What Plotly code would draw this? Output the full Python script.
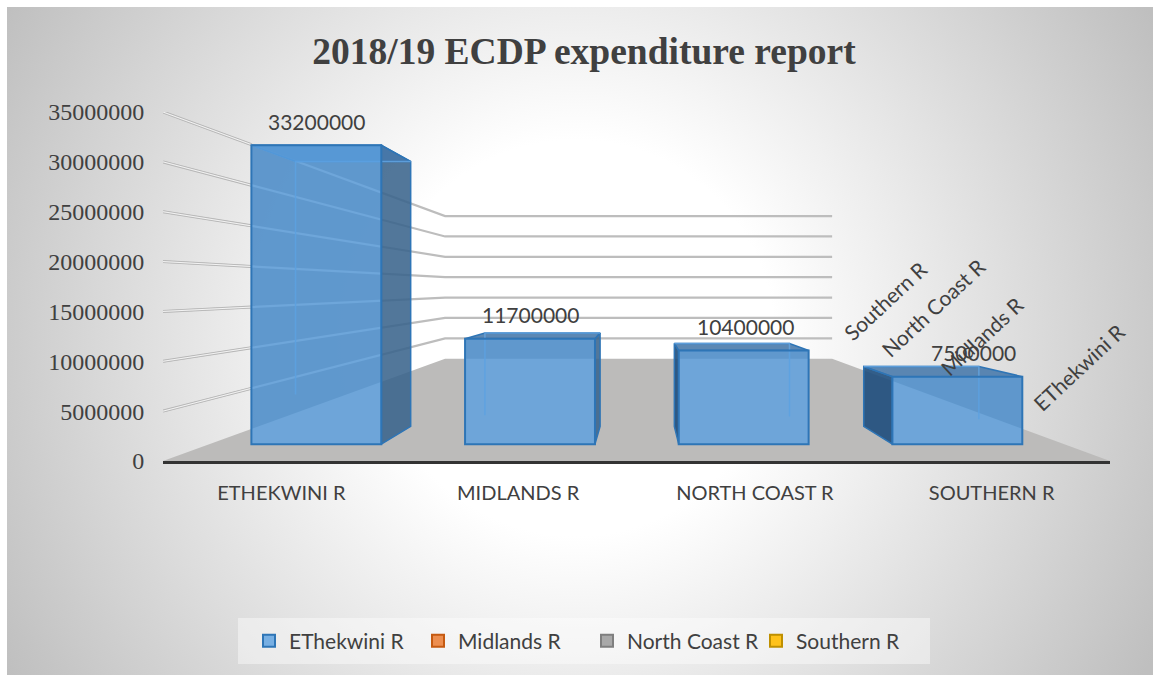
import base64
import plotly.graph_objects as go

# Chart content
title_text = "2018/19 ECDP expenditure report"
categories = ["EThekwini R", "Midlands R", "North Coast R", "Southern R"]
axis_labels = ["ETHEKWINI R", "MIDLANDS R", "NORTH COAST R", "SOUTHERN R"]
spending = [33200000, 11700000, 10400000, 7500000]
value_ticks = [0, 5000000, 10000000, 15000000, 20000000, 25000000, 30000000, 35000000]

# Perspective model: depth factors shrink everything towards a vanishing point
VP_CAT, VP_VAL = 1.515, 17350000
DEPTH_BAR_FRONT, DEPTH_BAR_BACK, DEPTH_WALL = 0.9025, 0.80, 0.4087
BAR_WIDTH = 0.608
CAT_MIN, CAT_MAX, VAL_MAX = -0.5, 3.5, 35000000

W, H = 1153, 675
SERIF = "Liberation Serif"
SANS = "Lato"
INK = "#404040"


def project(cat, val, depth):
    return VP_CAT + (cat - VP_CAT) * depth, VP_VAL + (val - VP_VAL) * depth


def path(points):
    xs, ys = zip(*[project(*p) for p in points])
    return list(xs), list(ys)


def add_poly(fig, points, fill, line="rgba(0,0,0,0)", width=1, closed=True):
    xs, ys = path(points)
    if closed:
        xs, ys = xs + xs[:1], ys + ys[:1]
    fig.add_trace(go.Scatter(
        x=xs, y=ys, mode="lines", showlegend=False, hoverinfo="skip",
        fill="toself" if fill else None, fillcolor=fill,
        line=dict(color=line, width=width),
    ))


def add_line(fig, points, color, width):
    xs, ys = path(points)
    fig.add_trace(go.Scatter(x=xs, y=ys, mode="lines", showlegend=False, hoverinfo="skip",
                             line=dict(color=color, width=width)))


def box_corners(index, value, depth):
    left, right = index - BAR_WIDTH / 2, index + BAR_WIDTH / 2
    return [(left, 0, depth), (left, value, depth), (right, value, depth), (right, 0, depth)]


fig = go.Figure()

# Dark interior of each box, later covered by the floor where the floor is in front
for i, v in enumerate(spending):
    add_poly(fig, box_corners(i, v, DEPTH_BAR_FRONT), "rgba(95,97,103,0.85)")

# Floor
add_poly(fig, [(CAT_MIN, 0, 1), (CAT_MAX, 0, 1), (CAT_MAX, 0, DEPTH_WALL), (CAT_MIN, 0, DEPTH_WALL)],
         "#bcbbba")

# Wall gridlines: the side wall is drawn as a double stroke up to the first box
first_box_edge = project(-BAR_WIDTH / 2, 0, DEPTH_BAR_FRONT)[0]
depth_at_box = (VP_CAT - first_box_edge) / (VP_CAT - CAT_MIN)
for tick in value_ticks[1:]:
    add_line(fig, [(CAT_MIN, tick, 1), (CAT_MIN, tick, depth_at_box)], "#b4b4b4", 3)
    add_line(fig, [(CAT_MIN, tick, 1), (CAT_MIN, tick, DEPTH_WALL), (CAT_MAX, tick, DEPTH_WALL)],
             "#bdbdbd", 2.2)
    add_line(fig, [(CAT_MIN, tick, 1), (CAT_MIN, tick, depth_at_box)], "#f4f4f4", 1)

# Visible outer faces and the far edges of each box
for i, v in enumerate(spending):
    left, right = i - BAR_WIDTH / 2, i + BAR_WIDTH / 2
    side = right if project(right, 0, 1)[0] < VP_CAT else left
    side_fill = "rgba(58,100,140,0.88)" if side == right else "rgba(30,78,125,0.9)"
    add_poly(fig, [(side, 0, DEPTH_BAR_FRONT), (side, v, DEPTH_BAR_FRONT),
                   (side, v, DEPTH_BAR_BACK), (side, 0, DEPTH_BAR_BACK)],
             side_fill, "#2e75b6", 1.5)
    add_poly(fig, [(left, v, DEPTH_BAR_FRONT), (right, v, DEPTH_BAR_FRONT),
                   (right, v, DEPTH_BAR_BACK), (left, v, DEPTH_BAR_BACK)],
             "rgba(70,120,170,0.88)", "#2e75b6", 1.5)
    far = left if side == right else right
    add_line(fig, [(far, 0.12 * v, DEPTH_BAR_BACK), (far, v, DEPTH_BAR_BACK),
                   (side, v, DEPTH_BAR_BACK)], "rgba(100,165,225,0.85)", 1.5)

# Front faces are real bars on an overlay axis scaled to the bars' depth plane
series_style = [
    ("rgba(90,160,225,0.8)", "#2e75b6"),
    ("#ed8e4f", "#c55a11"),
    ("#a9a9a9", "#7f7f7f"),
    ("#ffc21a", "#bf9000"),
]
for k, name in enumerate(categories):
    fig.add_trace(go.Bar(
        x=categories, y=spending if k == 0 else [None] * 4, name=name, width=BAR_WIDTH,
        xaxis="x2", yaxis="y2", hoverinfo="skip",
        marker=dict(color=series_style[k][0], line=dict(color=series_style[k][1], width=2)),
    ))

overlay_x = [VP_CAT + (c - VP_CAT) / DEPTH_BAR_FRONT for c in (CAT_MIN, CAT_MAX)]
overlay_y = [VP_VAL + (c - VP_VAL) / DEPTH_BAR_FRONT for c in (0, VAL_MAX)]
domain_x = [163 / W, 1110 / W]
domain_y = [(H - 461) / H, (H - 112) / H]

annotations = [
    dict(x=c, y=v, xref="x2", yref="y2", text=str(v), showarrow=False, yshift=24, xshift=dx,
         xanchor="center", yanchor="middle", font=dict(family=SANS, size=21, color=INK))
    for c, v, dx in zip(categories, spending, [0, 0, 2, 16])
]
# Depth-axis labels, slanted along the receding floor edge
depth_label_spots = [(1078, 367), (981, 336), (933, 307), (885, 300)]
for name, (px, py) in zip(categories, depth_label_spots):
    annotations.append(dict(x=px / W, y=1 - py / H, xref="paper", yref="paper", text=name,
                            showarrow=False, textangle=-43, xanchor="center", yanchor="middle",
                            font=dict(family=SANS, size=21, color=INK)))

backdrop = f"""<svg xmlns='http://www.w3.org/2000/svg' width='{W}' height='{H}'>
<defs><radialGradient id='g' gradientUnits='userSpaceOnUse' cx='576' cy='338' r='660'>
<stop offset='0.3' stop-color='#ffffff'/><stop offset='1' stop-color='#bfbfbf'/></radialGradient></defs>
<rect width='{W}' height='{H}' fill='#ffffff'/>
<rect x='7' y='7' width='{W - 7}' height='{H - 7}' fill='url(#g)'/></svg>"""
backdrop_uri = "data:image/svg+xml;base64," + base64.b64encode(backdrop.encode()).decode()

fig.update_layout(
    width=W, height=H, margin=dict(l=0, r=0, t=0, b=0, autoexpand=False),
    paper_bgcolor="white", plot_bgcolor="rgba(0,0,0,0)",
    barmode="overlay", hovermode=False,
    title=dict(text=f"<b>{title_text}</b>", x=584 / W, y=1 - 51 / H, xref="paper", yref="paper",
               xanchor="center", yanchor="middle", automargin=False,
               font=dict(family=SERIF, size=37.5, color=INK)),
    images=[dict(source=backdrop_uri, xref="paper", yref="paper", x=0, y=1, sizex=1, sizey=1,
                 sizing="stretch", xanchor="left", yanchor="top", layer="below")],
    shapes=[dict(type="rect", xref="paper", yref="paper", layer="below",
                 x0=238 / W, x1=930 / W, y0=1 - 664 / H, y1=1 - 618 / H,
                 fillcolor="rgba(255,255,255,0.42)", line=dict(width=0))],
    annotations=annotations,
    legend=dict(orientation="h", x=249 / W, y=1 - 641 / H, xanchor="left", yanchor="middle",
                bgcolor="rgba(0,0,0,0)", font=dict(family=SANS, size=21, color=INK),
                traceorder="normal", entrywidth=124, entrywidthmode="pixels"),
    xaxis=dict(domain=domain_x, range=[CAT_MIN, CAT_MAX], tickmode="array", tickvals=[0, 1, 2, 3],
               ticktext=axis_labels, showgrid=False, zeroline=False, showline=True,
               linecolor="#333333", linewidth=3, ticks="outside", ticklen=12,
               tickcolor="rgba(0,0,0,0)", tickfont=dict(family=SANS, size=20, color=INK)),
    yaxis=dict(domain=domain_y, range=[0, VAL_MAX], tickmode="array", tickvals=value_ticks,
               tickformat="d", showgrid=False, zeroline=False, showline=False,
               ticks="outside", ticklen=13, tickcolor="rgba(0,0,0,0)",
               tickfont=dict(family=SERIF, size=24, color=INK)),
    xaxis2=dict(overlaying="x", anchor="y2", range=overlay_x, type="category",
                categoryorder="array", categoryarray=categories, visible=False),
    yaxis2=dict(overlaying="y", anchor="x2", range=overlay_y, visible=False),
)

fig.write_html("out.html")
